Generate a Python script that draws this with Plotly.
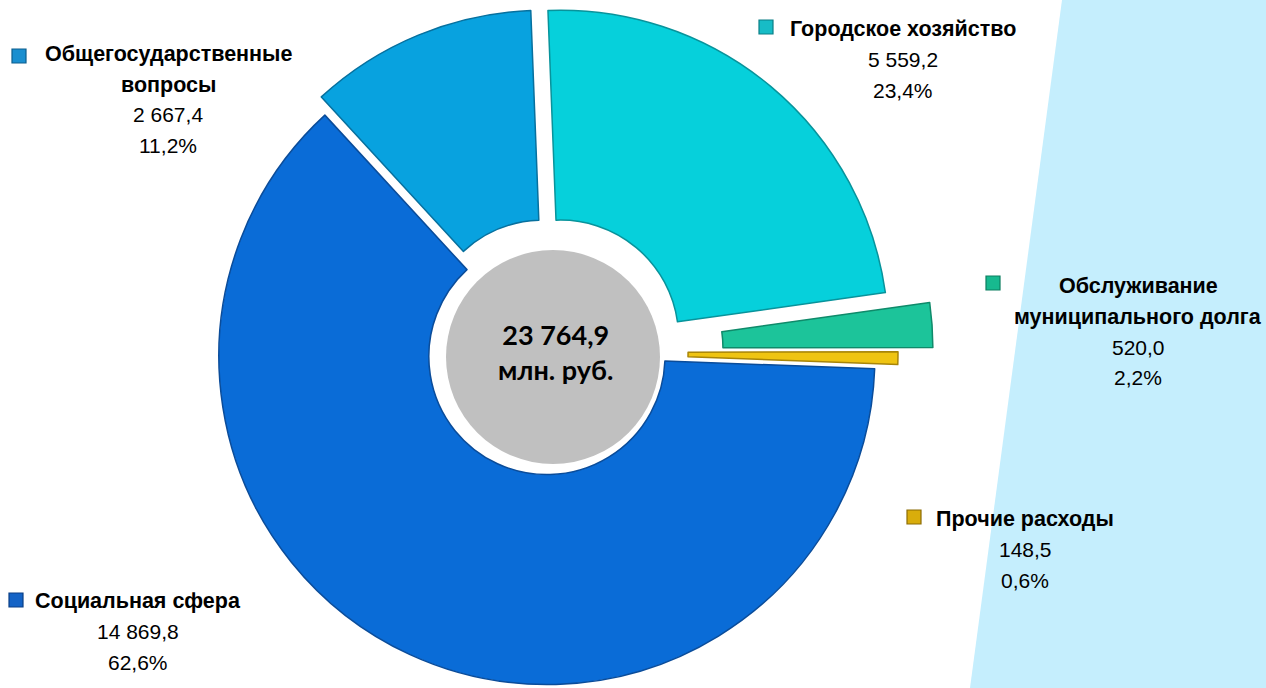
import math
import plotly.graph_objects as go

# ---- data ----
categories = ["Городское хозяйство", "Обслуживание муниципального долга",
              "Прочие расходы", "Социальная сфера", "Общегосударственные вопросы"]
values = [5559.2, 520.0, 148.5, 14869.8, 2667.4]
shares = ["23,4%", "2,2%", "0,6%", "62,6%", "11,2%"]
value_labels = ["5 559,2", "520,0", "148,5", "14 869,8", "2 667,4"]
total_label = "23 764,9"
unit_label = "млн. руб."

# ---- style ----
W, H = 1266, 688
colors = ["#06D0DB", "#1CC49A", "#EFC412", "#0A6CD7", "#08A2DF"]
edge_colors = ["#08939B", "#0F8A6A", "#A88508", "#0A4C9A", "#07709E"]
explode_px = [18, 56, 21, 5, 14.8]        # slice explosion (pixels)
CX, CY, R = 549, 352, 328                  # pie centre / radius in pixels
HOLE = 0.36
ROTATION = -2.2

fig = go.Figure()

total = sum(values)
cum = 0.0
for i, v in enumerate(values):
    mid = math.radians(ROTATION + 360.0 * (cum + v / 2) / total)
    cum += v
    cxi = CX + explode_px[i] * math.sin(mid)
    cyi = CY - explode_px[i] * math.cos(mid)
    hh = min(cyi, H - cyi)
    mcol = ["rgba(0,0,0,0)"] * len(values)
    lcol = ["rgba(0,0,0,0)"] * len(values)
    mcol[i] = colors[i]
    lcol[i] = edge_colors[i]
    fig.add_trace(go.Pie(
        labels=categories, values=values, sort=False, direction="clockwise",
        rotation=ROTATION, hole=HOLE, textinfo="none", hoverinfo="label+value",
        marker=dict(colors=mcol, line=dict(color=lcol, width=1.5)),
        domain=dict(x=[(cxi - R) / W, (cxi + R) / W],
                    y=[1 - (cyi + hh) / H, 1 - (cyi - hh) / H]),
        showlegend=False,
    ))

def px(x):
    return x / W

def py(y):
    return 1 - y / H

shapes = [
    dict(type="path", xref="paper", yref="paper",
         path=f"M {px(1062)} {py(0)} L {px(1266)} {py(0)} L {px(1266)} {py(688)} L {px(970)} {py(688)} Z",
         fillcolor="#C5EEFD", line=dict(width=0), layer="below"),
    dict(type="circle", xref="paper", yref="paper",
         x0=px(553 - 107), x1=px(553 + 107), y0=py(357 + 107), y1=py(357 - 107),
         fillcolor="#C0C0C0", line=dict(width=0), layer="above"),
]

# legend-like squares next to labels: (x, y) centres in pixels
marker_pos = [(766, 27), (993, 283), (914, 517), (16, 600), (19, 56)]
marker_fill = ["#17BCC6", "#17B98F", "#D9AD0B", "#1463C6", "#1A8FD0"]
marker_edge = ["#0B7F86", "#0C7E60", "#8C6C05", "#0B3F85", "#0C5E8E"]
for (mx, my), f, e in zip(marker_pos, marker_fill, marker_edge):
    shapes.append(dict(type="rect", xref="paper", yref="paper",
                       x0=px(mx - 7), x1=px(mx + 7), y0=py(my + 7), y1=py(my - 7),
                       fillcolor=f, line=dict(color=e, width=1.2), layer="above"))

label_titles = [["Городское хозяйство"], ["Обслуживание", "муниципального долга"],
                ["Прочие расходы"], ["Социальная сфера"], ["Общегосударственные", "вопросы"]]
label_x = [903, 1138, 1025, 138, 168]
label_y0 = [29, 286, 519, 601, 54]
STEP = 30.5

FONT = "'Liberation Sans', Arial, sans-serif"
annotations = []
for titles, val, sh, lx, ly in zip(label_titles, value_labels, shares, label_x, label_y0):
    lines = [(f"<b>{t}</b>", 21.5) for t in titles] + [(val, 21), (sh, 21)]
    for k, (txt, size) in enumerate(lines):
        annotations.append(dict(
            xref="paper", yref="paper", x=px(lx), y=py(ly + k * STEP),
            xanchor="center", yanchor="middle", align="center", showarrow=False,
            text=txt, font=dict(family=FONT, size=size, color="#000000")))

annotations.append(dict(
    xref="paper", yref="paper", x=px(555), y=py(352),
    xanchor="center", yanchor="middle", align="center", showarrow=False,
    text=f"<b>{total_label}</b><br><b>{unit_label}</b>",
    font=dict(family="Lato, 'Open Sans', sans-serif", size=27, color="#000000")))

fig.update_layout(
    width=W, height=H, margin=dict(l=0, r=0, t=0, b=0),
    paper_bgcolor="#FFFFFF", plot_bgcolor="#FFFFFF",
    shapes=shapes, annotations=annotations, showlegend=False,
)

fig.write_html("out.html", include_plotlyjs=True, config={"displayModeBar": False},
               post_script="document.body.style.margin='0';document.body.style.overflow='hidden';")
